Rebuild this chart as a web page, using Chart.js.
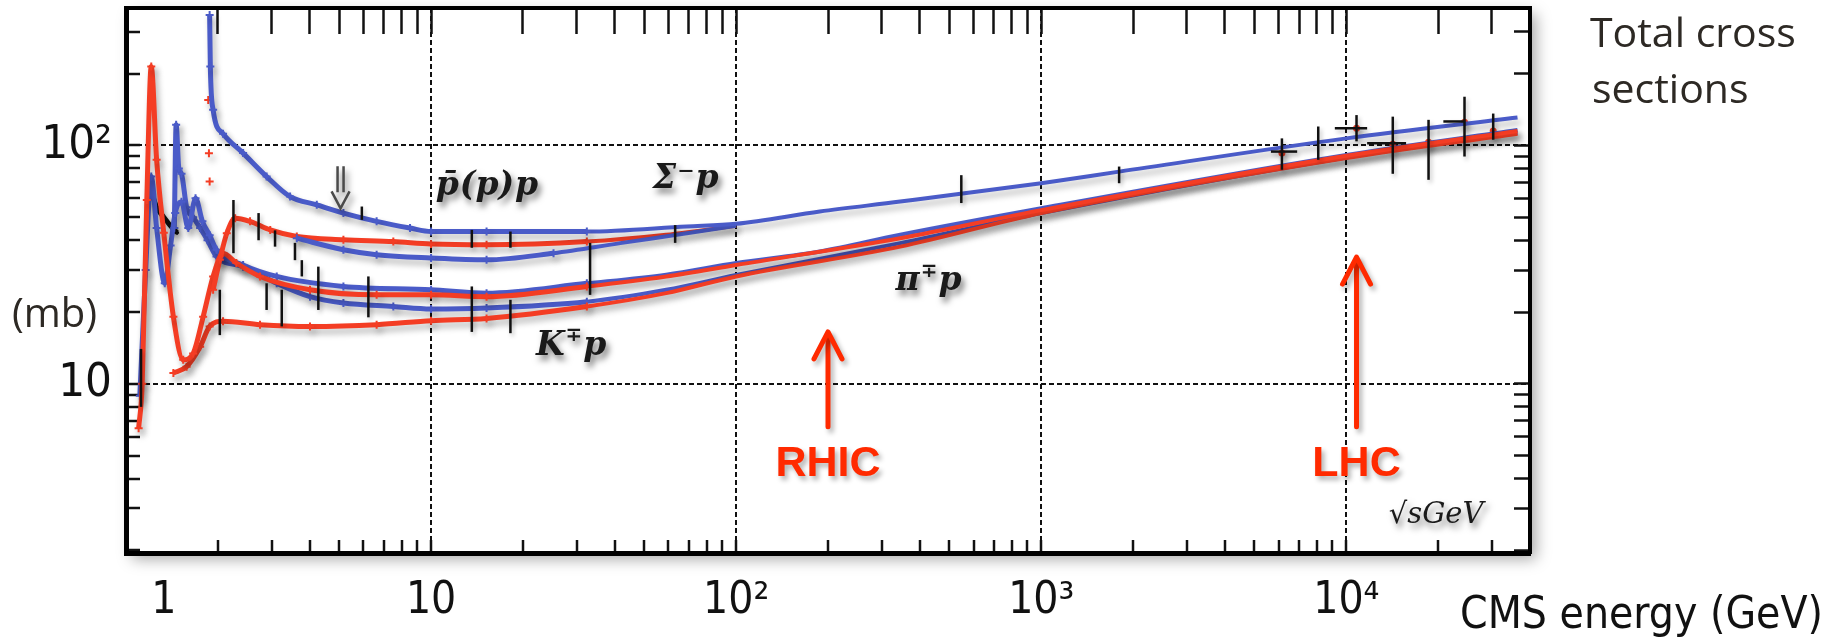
<!DOCTYPE html>
<html>
<head>
<meta charset="utf-8">
<title>Total cross sections</title>
<style>
  html, body { margin: 0; padding: 0; background: #fff; }
  #wrap { width: 1837px; height: 644px; }
</style>
<script src="https://cdn.jsdelivr.net/npm/chart.js@4/dist/chart.umd.min.js"></script>
</head>
<body>
<div id="wrap"><canvas id="chart" width="1837" height="644"></canvas></div>
<script>
// axis ranges (sqrt(s) in GeV, sigma in mb)
const X_MIN = 1, X_MAX = 40000;
const Y_MIN = 1.95, Y_MAX = 377;

const xTickValues = [1, 2, 3, 4, 5, 6, 7, 8, 9, 10, 20, 30, 40, 50, 60, 70, 80, 90,
  100, 200, 300, 400, 500, 600, 700, 800, 900, 1000, 2000, 3000, 4000, 5000, 6000, 7000, 8000, 9000,
  10000, 20000, 30000];
const xTickLabels = { 1: '\u2007\u2007\u20071', 10: '10', 100: '10²', 1000: '10³', 10000: '10⁴' };
const xGridValues = [10, 100, 1000, 10000];

const yTickValues = [2, 3, 4, 5, 6, 7, 8, 9, 10, 20, 30, 40, 50, 60, 70, 80, 90, 100, 200, 300];
const yTickLabels = { 10: '10', 100: '10²' };
const yGridValues = [10, 100];

// pbar p (blue) and p p (red)
const pbarpE = [1.88, 1.89, 1.93, 2.08, 2.42, 2.89, 3.45, 4.22, 5.16, 6.63, 8.53, 10, 15.2, 32.4, 68.9, 100, 188, 345, 1000, 1800, 10000, 36400];
const pbarpSigma = [352, 214, 141, 112, 92.8, 74, 61, 56.3, 52, 48, 45, 43.5, 43.5, 43.5, 45.7, 46.9, 52.8, 58.1, 69.4, 77.6, 107, 131];
const ppE = [1.93, 2.03, 2.14, 2.28, 2.55, 2.97, 3.63, 5.16, 7.52, 10, 15.2, 32.4, 59, 100];
const ppSigma = [24.8, 33.1, 42.8, 49.5, 48, 44.2, 41.5, 40.2, 39.5, 38.6, 38.3, 39.5, 42.2, 46.0];
const ppLowE = [1.86, 1.87, 1.88];
const ppLowSigma = [155, 92.7, 70.6];

// Sigma- p (blue)
const sigmaPE = [3.63, 5.16, 6.63, 10, 15.2, 25.2, 41.7, 68.9, 100];
const sigmaPSigma = [40.8, 36.5, 34.8, 33.7, 33.1, 35.3, 38.9, 42.8, 46.0];

// pi- p (blue), pi+ p (red)
const piMinusE = [1.11, 1.16, 1.21, 1.26, 1.34, 1.40, 1.45, 1.52, 1.60, 1.69, 1.78, 1.88, 1.98, 2.42, 3.12, 5.16, 10, 15.2, 32.4, 59, 100, 188, 345, 1000, 10000, 36400];
const piMinusSigma = [8.9, 30, 74, 45, 26.4, 38, 52, 58, 45, 60, 48, 42, 36.5, 31.5, 28.2, 25.6, 24.8, 24.0, 26.4, 28.7, 32.1, 35.9, 42.2, 54.5, 91.2, 116];
const piPlusE = [1.10, 1.13, 1.17, 1.21, 1.26, 1.33, 1.43, 1.54, 1.66, 1.79, 1.93, 2.08, 2.3, 2.75, 4.01, 6.63, 10, 15.2, 32.4, 59, 100, 345, 1000, 10000, 36400];
const piPlusSigma = [6.5, 10, 59, 214, 87, 43, 19.1, 12.6, 13.4, 19.1, 28.2, 35.3, 32.1, 28.2, 24.8, 23.6, 23.6, 23.2, 25.6, 28.2, 31.5, 40.8, 53.5, 90.5, 115];

// K- p (blue), K+ p (red)
const kMinusE = [1.44, 1.46, 1.49, 1.52, 1.58, 1.66, 1.75, 1.85, 1.98, 2.42, 3.12, 4.01, 5.16, 7.52, 10, 15.2, 32.4, 59, 100, 345, 1000, 10000, 36400];
const kMinusSigma = [45, 122, 80, 76, 55, 50, 45, 40, 34.2, 31, 26.4, 23.2, 21.8, 21.1, 20.6, 20.8, 22.1, 24.8, 28.6, 38.9, 52, 89, 113];
const kPlusE = [1.43, 1.58, 1.75, 1.88, 2.08, 2.75, 4.01, 6.63, 10, 15.2, 32.4, 59, 100, 345, 1000, 10000, 36400];
const kPlusSigma = [11.1, 11.8, 14.3, 17.4, 18.3, 17.7, 17.4, 17.7, 18.4, 18.8, 21.1, 24.0, 28.2, 37.6, 52, 88.5, 112];

// black data near the Delta region
const blackE = [1.20, 1.26, 1.33, 1.40, 1.47];
const blackSigma = [67, 55, 50, 46, 43];

// high energy measurements (red markers)
const hiRedE = [6150, 10800, 14200, 18600, 24400, 30300];
const hiRedSigma = [93, 118, 101, 103, 125, 115];

// vertical error bars: energy, low, high (mb)
const errE = [1.12, 2.03, 2.25, 2.72, 2.89, 3.08, 3.24, 3.58, 3.77, 4.27, 5.93, 6.23, 13.6, 13.6, 18.2, 18.2, 33.2, 63.1,
  547, 1800, 6150, 8090, 10800, 14200, 18600, 24400, 30300];
const errLo = [8, 16, 35.3, 40, 20.4, 37.6, 17.4, 33, 28.2, 20.4, 48.7, 19, 16.5, 37.2, 16.3, 37.2, 23.6, 39,
  57.3, 69.4, 79, 87, 104, 76, 71.7, 89.8, 105.6];
const errHi = [14, 24.8, 59, 52, 26.4, 44, 24.8, 39, 33, 31, 55.4, 28.2, 25.6, 44.2, 22.5, 43.5, 39, 46.3,
  75, 81.5, 107, 120, 134, 132, 128, 160, 136];
// horizontal bars: sigma, energy low, energy high
const hbarSigma = [94.2, 118, 102, 126];
const hbarELo = [5660, 9170, 11700, 20800];
const hbarEHi = [6900, 11700, 15700, 24500];

const BLUE = '#4a5bc8';
const RED = '#f43d24';
const ARROW_RED = '#ff2a00';
const NUM_FONT = '"Liberation Sans Narrow", "DejaVu Sans Condensed", sans-serif';
const LABEL_FONT = '"DejaVu Serif", "Liberation Serif", serif';

function pts(E, S) {
  return E.map((e, i) => ({ x: e, y: S[i] }));
}

function curve(label, E, S, color) {
  return {
    label: label,
    data: pts(E, S),
    borderColor: color,
    backgroundColor: color,
    borderWidth: 4,
    cubicInterpolationMode: 'monotone',
    pointStyle: 'cross',
    pointRadius: (c) => (c.raw && c.raw.x <= 40 ? 4 : 0),
    pointBorderWidth: 2,
    pointHoverRadius: 0,
    segment: { borderWidth: (c) => (c.p1.parsed.x <= 40 ? 5 : 4) },
  };
}

function markers(label, E, S, color, style, r) {
  return {
    label: label,
    data: pts(E, S),
    showLine: false,
    borderColor: color,
    backgroundColor: color,
    pointStyle: style,
    pointRadius: r,
    pointBorderWidth: 2,
    pointHoverRadius: 0,
  };
}

// text and arrows on the plot, placed in data coordinates
const curveLabels = [
  { parts: [['p̄', 0], ['(p)', 0], ['p', 0]], e: 15.3, s: 67 },
  { parts: [['Σ', 0], ['⁻', 0], ['p', 0]], e: 68.6, s: 71.7 },
  { parts: [['K', 0], ['∓', 1], ['p', 0]], e: 28.9, s: 14.4 },
  { parts: [['π', 0], ['∓', 1], ['p', 0]], e: 429, s: 26.8 },
];
const machines = [
  { name: 'RHIC', e: 200, tip: 16.5, tail: 6.6, text: 4.6 },
  { name: 'LHC', e: 10800, tip: 34, tail: 6.6, text: 4.6 },
];

function logTicks(values) {
  return (scale) => { scale.ticks = values.map((v) => ({ value: v })); };
}

// fixed box sizes so the frame lands where it is in the picture
function fixBox(size) {
  return (s) => {
    if (s.isHorizontal()) s.height = size; else s.width = size;
    s.paddingTop = 0; s.paddingBottom = 0; s.paddingLeft = 0; s.paddingRight = 0;
  };
}

function setShadow(ctx, a, blur, dx, dy) {
  ctx.shadowColor = 'rgba(0,0,0,' + a + ')';
  ctx.shadowBlur = blur;
  ctx.shadowOffsetX = dx;
  ctx.shadowOffsetY = dy;
}

function drawParts(ctx, parts, cx, cy, size) {
  const big = 'bold italic ' + size + 'px ' + LABEL_FONT;
  const small = 'bold italic ' + Math.round(size * 0.62) + 'px ' + LABEL_FONT;
  let w = 0;
  parts.forEach(([t, sup]) => { ctx.font = sup ? small : big; w += ctx.measureText(t).width + 1; });
  let x = cx - w / 2;
  ctx.textAlign = 'left';
  ctx.textBaseline = 'middle';
  parts.forEach(([t, sup]) => {
    ctx.font = sup ? small : big;
    ctx.fillText(t, x, sup ? cy - size * 0.3 : cy);
    x += ctx.measureText(t).width + 1;
  });
}

function fitText(ctx, text, family, width, maxSize) {
  let size = maxSize;
  ctx.font = size + 'px ' + family;
  const w = ctx.measureText(text).width;
  if (w > width) size = Math.floor(size * width / w);
  ctx.font = size + 'px ' + family;
}

const framePlugin = {
  id: 'frame',
  beforeDraw(chart) {
    const { ctx, chartArea: a } = chart;
    ctx.save();
    ctx.fillStyle = '#fff';
    ctx.fillRect(0, 0, chart.width, chart.height);
    setShadow(ctx, 0.35, 14, 6, 6);
    ctx.fillRect(a.left, a.top, a.right - a.left, a.bottom - a.top);
    ctx.restore();
  },
  beforeDatasetsDraw(chart) {
    chart.ctx.save();
    setShadow(chart.ctx, 0.28, 6, 3, 5);
  },
  afterDatasetsDraw(chart) {
    const { ctx, chartArea: a, scales: { x, y } } = chart;
    ctx.restore();
    ctx.save();
    ctx.beginPath();
    ctx.rect(a.left, a.top, a.right - a.left, a.bottom - a.top);
    ctx.clip();
    setShadow(ctx, 0.25, 4, 2, 3);
    ctx.strokeStyle = '#111';
    ctx.lineWidth = 2.5;
    errE.forEach((e, i) => {
      const px = x.getPixelForValue(e);
      ctx.beginPath();
      ctx.moveTo(px, y.getPixelForValue(errLo[i]));
      ctx.lineTo(px, y.getPixelForValue(errHi[i]));
      ctx.stroke();
    });
    hbarSigma.forEach((s, i) => {
      const py = y.getPixelForValue(s);
      ctx.beginPath();
      ctx.moveTo(x.getPixelForValue(hbarELo[i]), py);
      ctx.lineTo(x.getPixelForValue(hbarEHi[i]), py);
      ctx.stroke();
    });
    ctx.restore();
  },
  afterDraw(chart) {
    const { ctx, scales: { x, y } } = chart;
    ctx.save();
    // curve labels
    setShadow(ctx, 0.5, 6, 3, 5);
    ctx.fillStyle = '#1a1a1a';
    curveLabels.forEach((l) => drawParts(ctx, l.parts, x.getPixelForValue(l.e), y.getPixelForValue(l.s), 33));
    ctx.font = 'italic 29px ' + LABEL_FONT;
    ctx.textAlign = 'center';
    ctx.fillText('√sGeV', x.getPixelForValue(19700), y.getPixelForValue(2.8));

    // hollow down arrow near 5 GeV
    const ax = x.getPixelForValue(5.05), ay = y.getPixelForValue(66.7);
    ctx.strokeStyle = '#4a4a4a';
    ctx.lineWidth = 2.5;
    ctx.beginPath();
    ctx.moveTo(ax - 3, ay - 21); ctx.lineTo(ax - 3, ay + 5);
    ctx.moveTo(ax + 3, ay - 21); ctx.lineTo(ax + 3, ay + 5);
    ctx.moveTo(ax - 9, ay + 4); ctx.lineTo(ax, ay + 21); ctx.lineTo(ax + 9, ay + 4);
    ctx.stroke();

    // RHIC / LHC arrows
    setShadow(ctx, 0.3, 5, 3, 4);
    machines.forEach((m) => {
      const mx = x.getPixelForValue(m.e);
      const tip = y.getPixelForValue(m.tip);
      ctx.strokeStyle = ARROW_RED;
      ctx.lineWidth = 5;
      ctx.lineCap = 'round';
      ctx.lineJoin = 'round';
      ctx.beginPath();
      ctx.moveTo(mx, y.getPixelForValue(m.tail));
      ctx.lineTo(mx, tip + 2);
      ctx.stroke();
      ctx.beginPath();
      ctx.moveTo(mx - 14, tip + 27);
      ctx.lineTo(mx, tip);
      ctx.lineTo(mx + 14, tip + 27);
      ctx.stroke();
      ctx.fillStyle = ARROW_RED;
      ctx.font = 'bold 43px "Liberation Sans", Arial, sans-serif';
      ctx.textAlign = 'center';
      ctx.textBaseline = 'middle';
      ctx.fillText(m.name, mx, y.getPixelForValue(m.text));
    });

    // texts outside the frame
    setShadow(ctx, 0, 0, 0, 0);
    ctx.fillStyle = '#2d2924';
    ctx.textAlign = 'left';
    ctx.textBaseline = 'alphabetic';
    ctx.font = '41px "Open Sans", "Noto Sans", sans-serif';
    ctx.fillText('Total cross', 1590, 47);
    ctx.fillText('sections', 1592, 103);
    ctx.font = '40px "Open Sans", "Noto Sans", sans-serif';
    ctx.textBaseline = 'middle';
    ctx.fillText('(mb)', 12, 316);
    ctx.fillStyle = '#111';
    fitText(ctx, 'CMS energy (GeV)', NUM_FONT, 363, 48);
    ctx.textBaseline = 'alphabetic';
    ctx.fillText('CMS energy (GeV)', 1460, 628);
    ctx.restore();
  },
};

const gridColor = (list) => (c) => (c.tick && list.includes(c.tick.value) ? '#111' : 'rgba(0,0,0,0)');

new Chart(document.getElementById('chart'), {
  type: 'line',
  data: {
    datasets: [
      curve('p̄p', pbarpE, pbarpSigma, BLUE),
      curve('Σ⁻p', sigmaPE, sigmaPSigma, BLUE),
      curve('pp', ppE, ppSigma, RED),
      curve('π⁺p', piPlusE, piPlusSigma, RED),
      curve('K⁺p', kPlusE, kPlusSigma, RED),
      curve('π⁻p', piMinusE, piMinusSigma, BLUE),
      curve('K⁻p', kMinusE, kMinusSigma, BLUE),
      Object.assign(curve('black', blackE, blackSigma, '#111'), { pointRadius: 2 }),
      markers('pp low', ppLowE, ppLowSigma, RED, 'cross', 4),
      markers('high energy', hiRedE, hiRedSigma, RED, 'circle', 2.5),
    ],
  },
  options: {
    responsive: false,
    animation: false,
    events: [],
    layout: { padding: 0 },
    plugins: { legend: { display: false }, tooltip: { enabled: false } },
    scales: {
      x: {
        type: 'logarithmic', position: 'bottom', min: X_MIN, max: X_MAX,
        afterBuildTicks: logTicks(xTickValues),
        afterFit: fixBox(91),
        ticks: {
          autoSkip: false, maxRotation: 0, padding: 35, color: '#111',
          font: { family: NUM_FONT, size: 44 },
          callback: (v) => xTickLabels[v] || '',
        },
        grid: { color: gridColor(xGridValues), lineWidth: 2, tickLength: -13, tickWidth: 2.5, tickColor: '#111' },
        border: { color: '#000', width: 5, dash: [5, 3], z: 1 },
      },
      x2: {
        type: 'logarithmic', position: 'top', min: X_MIN, max: X_MAX,
        afterBuildTicks: logTicks(xTickValues),
        afterFit: fixBox(8),
        ticks: { display: false },
        grid: { color: 'rgba(0,0,0,0)', tickLength: -26, tickWidth: 2.5, tickColor: '#111' },
        border: { color: '#000', width: 4, z: 1 },
      },
      y: {
        type: 'logarithmic', position: 'left', min: Y_MIN, max: Y_MAX,
        afterBuildTicks: logTicks(yTickValues),
        afterFit: fixBox(126),
        ticks: {
          autoSkip: false, padding: 28, crossAlign: 'near', color: '#111',
          font: { family: NUM_FONT, size: 47 },
          callback: (v) => yTickLabels[v] || '',
        },
        grid: { color: gridColor(yGridValues), lineWidth: 2, tickLength: -14, tickWidth: 2.5, tickColor: '#111' },
        border: { color: '#000', width: 5, dash: [5, 3], z: 1 },
      },
      y2: {
        type: 'logarithmic', position: 'right', min: Y_MIN, max: Y_MAX,
        afterBuildTicks: logTicks(yTickValues),
        afterFit: fixBox(307),
        ticks: { display: false },
        grid: { color: 'rgba(0,0,0,0)', tickLength: -16, tickWidth: 2.5, tickColor: '#111' },
        border: { color: '#000', width: 4, z: 1 },
      },
    },
  },
  plugins: [framePlugin],
});
</script>
</body>
</html>
